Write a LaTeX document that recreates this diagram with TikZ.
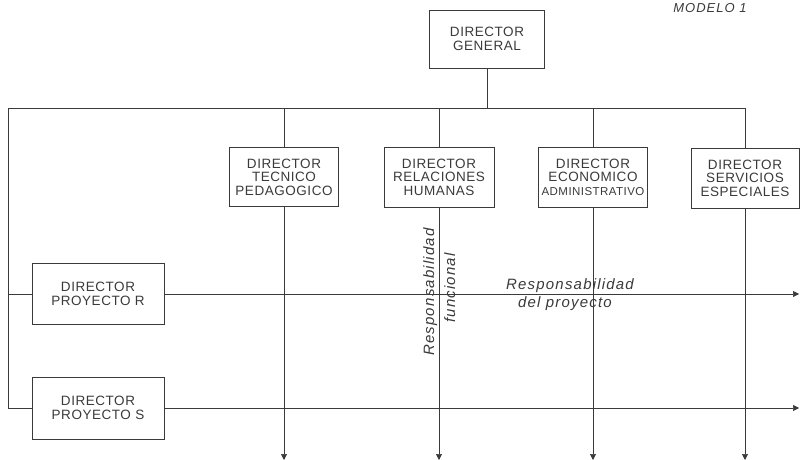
\documentclass[tikz,border=0pt]{standalone}
\usepackage{fontspec}
\setmainfont{Liberation Sans}
\newfontfamily\hand[LetterSpace=4]{Liberation Sans}
\newfontfamily\handit[LetterSpace=8]{Liberation Sans}
\usetikzlibrary{arrows.meta}
\definecolor{ink}{HTML}{3A3A3A}
\begin{document}
\begin{tikzpicture}[x=1pt,y=-1pt,
  box/.style={draw=ink, line width=0.8pt, align=center, font=\hand\fontsize{13.5}{13.5}\selectfont, text=ink, inner sep=0pt},
  wire/.style={draw=ink, line width=0.6pt},
  arr/.style={wire, -{Triangle[length=6pt,width=6pt]}},
  lab/.style={font=\handit\itshape\fontsize{15}{17}\selectfont, text=ink, inner sep=0pt}]
\useasboundingbox (0,0) rectangle (800,460);

% nodes
\node[box, minimum width=115pt, minimum height=58pt] (dg) at (487,39) {DIRECTOR\\GENERAL};
\node[box, minimum width=109pt, minimum height=59pt] (tec) at (284,177) {DIRECTOR\\TECNICO\\PEDAGOGICO};
\node[box, minimum width=110pt, minimum height=60pt] (rel) at (439,177) {DIRECTOR\\RELACIONES\\HUMANAS};
\node[box, minimum width=109pt, minimum height=60pt] (eco) at (593,177) {DIRECTOR\\ECONOMICO\\{\fontsize{11.5}{13.5}\selectfont ADMINISTRATIVO}};
\node[box, minimum width=108pt, minimum height=60pt] (ser) at (745,178) {DIRECTOR\\SERVICIOS\\ESPECIALES};
\node[box, minimum width=132pt, minimum height=61pt] (pr) at (98,294) {DIRECTOR\\PROYECTO R};
\node[box, minimum width=132pt, minimum height=62pt] (ps) at (98,408) {DIRECTOR\\PROYECTO S};

% helper coordinates
\coordinate (barL) at (8,108);
\coordinate (bot) at (0,460);
\coordinate (rgt) at (799,0);
\coordinate (barR) at (ser.north |- barL);
\coordinate (leftR) at (barL |- pr.west);
\coordinate (leftS) at (barL |- ps.west);

% connectors
\draw[wire] (dg.south) -- (dg.south |- barL);
\draw[wire] (barL) -- (barR);
\draw[wire] (barL) -- (leftS);
\draw[wire] (tec.north |- barL) -- (tec.north);
\draw[wire] (rel.north |- barL) -- (rel.north);
\draw[wire] (eco.north |- barL) -- (eco.north);
\draw[wire] (barR) -- (ser.north);
\draw[arr] (tec.south) -- (tec.south |- bot);
\draw[arr] (rel.south) -- (rel.south |- bot);
\draw[arr] (eco.south) -- (eco.south |- bot);
\draw[arr] (ser.south) -- (ser.south |- bot);
\draw[wire] (leftR) -- (pr.west);
\draw[wire] (leftS) -- (ps.west);
\draw[arr] (pr.east) -- (pr.east -| rgt);
\draw[arr] (ps.east) -- (ps.east -| rgt);

% labels
\node[lab, anchor=base] (rp1) at (570,289) {Responsabilidad};
\node[lab, anchor=base] (rp2) at (565,307) {del proyecto};
\node[lab, anchor=base, rotate=90] (rf1) at (434,292) {Responsabilidad};
\node[lab, anchor=base, rotate=90] (rf2) at (455,288) {funcional};
\node[lab, anchor=base, font=\handit\itshape\fontsize{13}{15}\selectfont] (mod) at (710,13) {MODELO 1};
\end{tikzpicture}
\end{document}
